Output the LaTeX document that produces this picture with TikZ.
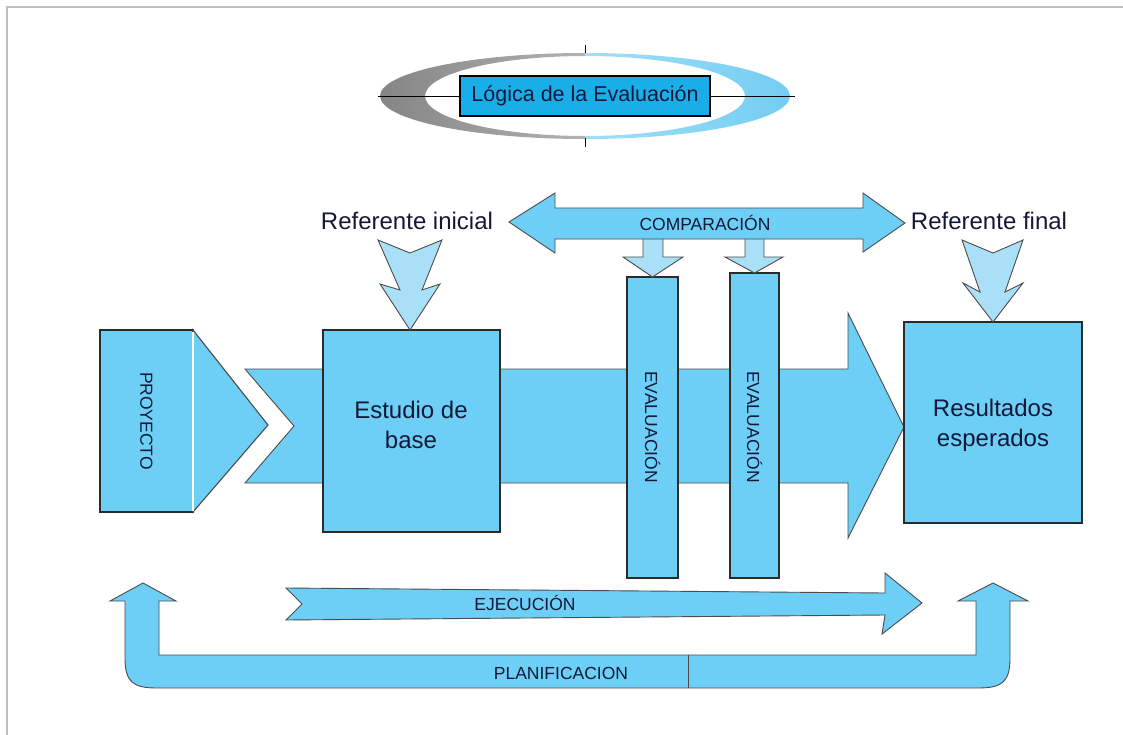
\documentclass[tikz,border=0pt]{standalone}
\usepackage{fontspec}
\setmainfont{Liberation Sans}
\definecolor{skyfill}{HTML}{6DCFF6}
\definecolor{palefill}{HTML}{A9E0F8}
\definecolor{titlefill}{HTML}{1AAEE8}
\definecolor{edge}{HTML}{2B2B2B}
\definecolor{ink}{HTML}{141838}
\definecolor{ringblue}{HTML}{72CDF2}
\definecolor{ringgray}{HTML}{858585}
\tikzset{
  blockbox/.style={draw=edge, fill=skyfill, line width=1.3pt, inner sep=0pt, outer sep=0pt},
  bigtxt/.style={text=ink, font=\fontsize{24}{30}\selectfont, align=center},
  smalltxt/.style={text=ink, font=\fontsize{17.5}{20}\selectfont, inner sep=0pt},
  flowarrow/.style={draw=edge!85, fill=skyfill, line width=0.9pt, line join=miter},
  palearrow/.style={draw=edge!85, fill=palefill, line width=0.9pt, line join=miter},
}
\begin{document}
\begin{tikzpicture}[x=1pt,y=-1pt]
\useasboundingbox (0,0) rectangle (1123,735);

% page frame (top and left rules)
\draw[gray!50, line width=1.3pt] (7,735) -- (7,7) -- (1123,7);

% ---- title emblem: two-tone ring, cross lines and title box ----
\begin{scope}
  \clip (370,40) rectangle (585,152);
  \shade[even odd rule, left color=ringgray, right color=gray!25]
    (585,96) ellipse [x radius=205pt, y radius=43pt]
    (585,96) ellipse [x radius=160pt, y radius=40pt];
\end{scope}
\begin{scope}
  \clip (585,40) rectangle (800,152);
  \shade[even odd rule, left color=ringblue!30, right color=ringblue]
    (585,96) ellipse [x radius=205pt, y radius=43pt]
    (585,96) ellipse [x radius=160pt, y radius=40pt];
\end{scope}
\coordinate (hl) at (378,96);
\coordinate (hr) at (795,96);
\coordinate (vt1) at (585,45);
\coordinate (vt2) at (585,53);
\coordinate (vb1) at (585,138);
\coordinate (vb2) at (585,147);
\draw[black, line width=0.8pt] (hl) -- (hr);
\draw[black, line width=0.8pt] (vt1) -- (vt2);
\draw[black, line width=0.8pt] (vb1) -- (vb2);
\node[draw=black, fill=titlefill, line width=1.2pt, minimum width=250pt,
      minimum height=40pt, inner sep=0pt, text=ink,
      font=\fontsize{21.5}{24}\selectfont] (title) at (585,96)
      {Lógica de la Evaluación};

% ---- main flow arrow (notched tail) ----
\path[flowarrow] (245,369) -- (848,369) -- (848,313) -- (904,427)
  -- (848,538) -- (848,483) -- (245,483) -- (294,426) -- cycle;

% ---- project block with its pointer ----
\node[blockbox, minimum width=93pt, minimum height=182pt] (proy) at (146.5,421) {};
\path[flowarrow, line width=1.1pt] (193,330) -- (268,425) -- (193,512) -- cycle;
\draw[white, line width=1.2pt] (193,331.5) -- (193,510.5);
\node[smalltxt, rotate=-90] at (proy.center) {PROYECTO};

% ---- baseline study, evaluations and expected results ----
\node[blockbox, minimum width=177pt, minimum height=202pt] (base) at (411.5,431) {};
\node[bigtxt] at (411,425) {Estudio de\\base};

\node[blockbox, minimum width=51pt, minimum height=301pt] (ev1) at (652.5,427.5) {};
\node[smalltxt, rotate=-90] at (652.5,427) {EVALUACIÓN};
\node[blockbox, minimum width=49pt, minimum height=305pt] (ev2) at (754.5,425.5) {};
\node[smalltxt, rotate=-90] at (754.5,427) {EVALUACIÓN};

\node[blockbox, minimum width=178pt, minimum height=201pt] (res) at (993,422.5) {};
\node[bigtxt] at (993,425) {Resultados\\esperados};

% ---- comparison: feeds into both evaluations ----
\path[palearrow] (643,236) -- (663,236) -- (663,257) -- (683,257)
  -- (ev1.north) -- (623,257) -- (643,257) -- cycle;
\path[palearrow] (745,236) -- (764,236) -- (764,257) -- (783,257)
  -- (ev2.north) -- (725,257) -- (745,257) -- cycle;

\path[flowarrow] (509,222) -- (555,193) -- (555,208) -- (863,208) -- (863,193)
  -- (905,223) -- (863,252) -- (863,239) -- (555,239) -- (555,253) -- cycle;
\node[smalltxt] (comp) at (705,223) {COMPARACIÓN};

% ---- references ----
\node[bigtxt] (refi) at (407,221) {Referente inicial};
\node[bigtxt] (reff) at (989,221) {Referente final};
\path[palearrow] (378,240) -- (410,253) -- (442,240) -- (422,290) -- (440,284)
  -- (base.north -| 410,0) -- (380,284) -- (400,290) -- cycle;
\path[palearrow] (962,240) -- (993,253) -- (1023,240) -- (1005,292) -- (1023,283)
  -- (res.north) -- (963,283) -- (980,292) -- cycle;

% ---- execution ----
\path[flowarrow] (286,588) -- (885,593) -- (885,573) -- (922,603) -- (882,634)
  -- (885,615) -- (286,620) -- (302,604) -- cycle;
\node[smalltxt] (ejec) at (525,603) {EJECUCIÓN};

% ---- planning: U-shaped double arrow ----
\path[flowarrow] (143,583) -- (176,601) -- (159,601) -- (159,655) -- (976,655)
  -- (976,601) -- (958,601) -- (993,583) -- (1028,601) -- (1010,601)
  -- (1010,658) .. controls (1010,682) and (1002,688) .. (978,688)
  -- (157,688) .. controls (133,688) and (125,682) .. (125,658)
  -- (125,601) -- (110,601) -- cycle;
\coordinate (sepT) at (688,655);
\coordinate (sepB) at (688,688);
\draw[edge!85, line width=0.9pt] (sepT) -- (sepB);
\node[smalltxt] (plan) at (561,673) {PLANIFICACION};
\end{tikzpicture}
\end{document}
